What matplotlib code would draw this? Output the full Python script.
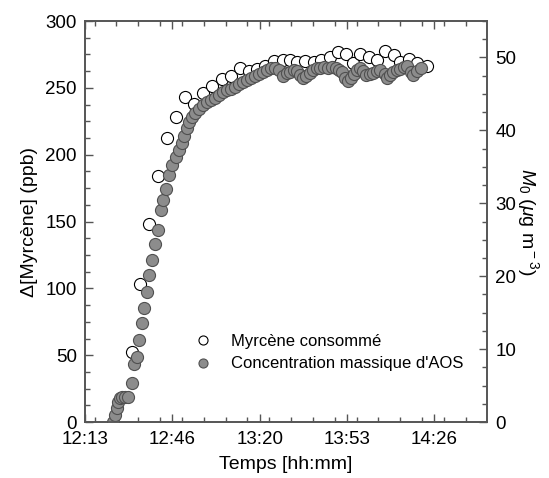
import numpy as np
import matplotlib as mpl
mpl.use('Agg')
import matplotlib.pyplot as plt
from matplotlib.ticker import MultipleLocator

# time axis in minutes after 12:00
myrcene_t = [30.8, 34.0, 37.2, 40.6, 44.1, 47.5, 50.9, 54.5, 58.0, 61.4,
             65.0, 68.4, 71.9, 75.5, 78.5, 81.6, 84.8, 88.3, 91.1, 93.8,
             96.8, 100.1, 102.9, 106.2, 109.2, 112.5, 115.1, 117.8, 121.0,
             124.2, 127.3, 130.5, 133.0, 136.2, 139.5, 143.1]
myrcene_ppb = [52.4, 103.0, 147.8, 183.9, 212.5, 228.2, 243.1, 237.9, 246.1,
               251.7, 256.6, 259.2, 265.2, 262.6, 263.9, 266.3, 270.4, 271.2,
               271.2, 269.3, 270.1, 269.7, 270.8, 273.1, 276.8, 275.3, 268.6,
               275.7, 273.3, 270.8, 277.6, 274.6, 269.7, 271.6, 268.6, 266.5]

aos_t = [23.8, 24.4, 25.1, 25.7, 26.3, 27.1, 28.2, 29.5, 30.7, 31.7,
         32.7, 33.7, 34.6, 35.6, 36.5, 37.5, 38.5, 39.7, 40.9, 42.0,
         42.8, 43.9, 45.0, 46.2, 47.5, 48.6, 49.8, 50.7, 51.7, 52.4,
         53.6, 54.9, 56.4, 58.0, 59.5, 61.0, 62.5, 64.1, 65.6, 67.1,
         68.6, 70.2, 71.7, 73.2, 74.7, 76.3, 77.8, 79.3, 80.8, 82.4,
         83.9, 85.4, 87.0, 88.5, 90.0, 91.1, 92.6, 93.8, 94.9, 96.1,
         97.2, 98.7, 99.9, 101.4, 102.6, 104.1, 105.6, 107.1, 108.7, 109.8,
         110.9, 112.1, 113.2, 114.4, 115.5, 116.7, 117.8, 118.9, 120.1, 121.6,
         122.8, 124.3, 125.4, 127.0, 128.1, 129.2, 130.4, 131.9, 133.0, 134.6,
         135.7, 136.9, 138.0, 139.5, 141.0]
aos_mass = [0.0, 1.0, 1.9, 2.8, 3.3, 3.5, 3.5, 3.5, 5.4, 7.9,
            8.9, 11.3, 13.6, 15.7, 17.8, 20.2, 22.2, 24.4, 26.3, 29.1,
            30.5, 32.0, 33.9, 35.3, 36.4, 37.3, 38.3, 39.2, 40.3, 41.2,
            41.8, 42.4, 43.0, 43.5, 43.9, 44.2, 44.5, 44.9, 45.2, 45.5,
            45.7, 45.9, 46.4, 46.6, 46.9, 47.2, 47.5, 47.7, 48.0, 48.3,
            48.5, 48.5, 48.3, 47.5, 47.9, 48.0, 48.3, 48.1, 47.6, 47.2,
            47.5, 47.9, 48.3, 48.6, 48.6, 48.7, 48.6, 48.7, 48.6, 48.3,
            48.0, 47.2, 46.8, 47.2, 47.7, 48.3, 48.6, 48.1, 47.6, 47.7,
            47.9, 48.1, 48.3, 47.7, 47.2, 47.6, 48.0, 48.3, 48.4, 48.7,
            48.8, 48.0, 47.6, 48.1, 48.6]

tick_pos = [13, 46.25, 79.5, 112.75, 146]
tick_labels = ['12:13', '12:46', '13:20', '13:53', '14:26']

plt.rcParams['font.family'] = ['Liberation Sans', 'DejaVu Sans']
plt.rcParams['mathtext.fontset'] = 'custom'
plt.rcParams['mathtext.rm'] = 'Liberation Sans'
plt.rcParams['mathtext.it'] = 'Liberation Sans:italic'
label_fontsize = 14
tick_fontsize = 13.5
spine_col = '#555555'

fig = plt.figure(figsize=(5.49, 4.78), dpi=100)
ax = fig.add_axes([0.155, 0.117, 0.732, 0.839])
ax2 = ax.twinx()

ms = 8.7
l1, = ax.plot(myrcene_t, myrcene_ppb, 'o', ms=ms, mfc='white', mec='black',
              mew=0.8, label='Myrcène consommé')
l2, = ax2.plot(aos_t, aos_mass, 'o', ms=ms, mfc='#8c8c8c', mec='#505050',
               mew=0.8, label="Concentration massique d'AOS")

ax.set_xlim(13, 166)
ax.set_ylim(0, 300)
ax2.set_ylim(0, 55)
ax.set_xticks(tick_pos)
ax.set_xticklabels(tick_labels)
ax.xaxis.set_minor_locator(MultipleLocator(33.25 / 4))
ax.yaxis.set_major_locator(MultipleLocator(50))
ax.yaxis.set_minor_locator(MultipleLocator(12.5))
ax2.yaxis.set_major_locator(MultipleLocator(10))
ax2.yaxis.set_minor_locator(MultipleLocator(2.5))

ax.tick_params(axis='x', which='both', direction='in', top=True,
               labelsize=tick_fontsize, pad=6.5, color=spine_col)
ax.tick_params(axis='y', which='both', direction='in', right=False,
               labelsize=tick_fontsize, pad=6, color=spine_col)
ax2.tick_params(axis='y', which='both', direction='in',
                labelsize=tick_fontsize, pad=6, color=spine_col)
for a in (ax, ax2):
    a.tick_params(which='major', length=6, width=1)
    a.tick_params(which='minor', length=3.5, width=1)
    for s in a.spines.values():
        s.set_color(spine_col)
        s.set_linewidth(1.2)

ax.set_xlabel('Temps [hh:mm]', fontsize=label_fontsize, labelpad=5.5)
ax.set_ylabel('Δ[Myrcène] (ppb)', fontsize=label_fontsize, labelpad=5)
ax2.set_ylabel(r'$M_0$ ($\mu$g m$^{\rm -3}$)', fontsize=label_fontsize,
               rotation=270, labelpad=18)

ax2.legend(handles=[l1, l2], loc='center left', bbox_to_anchor=(0.225, 0.173),
           frameon=False, fontsize=12, markerscale=0.75, handletextpad=0.9,
           labelspacing=0.45, handlelength=1.5)

plt.savefig('out.png', dpi=100)
